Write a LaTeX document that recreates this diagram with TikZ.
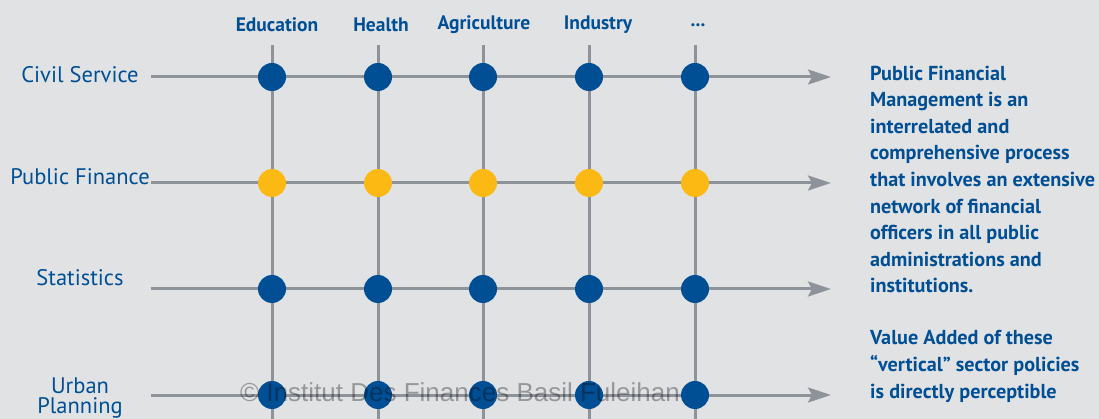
\documentclass[tikz,border=0pt]{standalone}
\usepackage{fontspec}
\setmainfont{PT Sans}
\newfontfamily\markfont{Liberation Sans}
\usetikzlibrary{arrows.meta}
\definecolor{ifblue}{HTML}{004F95}
\definecolor{ifyellow}{HTML}{FDB913}
\definecolor{ifgrey}{HTML}{8E9299}
\definecolor{ifback}{HTML}{E1E2E4}
\newcommand{\moresectors}{...}

\begin{document}
\begin{tikzpicture}[x=1pt,y=-1pt]
	\tikzstyle{dot}=[circle,inner sep=0pt,minimum size=28pt]
	\tikzstyle{grid}=[draw=ifgrey,line width=3pt]
	\tikzstyle{sector}=[text=ifblue,font=\bfseries\fontsize{19.5}{20}\selectfont]
	\tikzstyle{field}=[text=ifblue,font=\fontsize{22.5}{20}\selectfont,align=center]
	\tikzstyle{remark}=[anchor=base west,inner sep=0pt,align=left,text=ifblue,font=\bfseries\fontsize{20.2}{26.6}\selectfont]
	\fill[ifback] (0,0) rectangle (1099,419);
	\useasboundingbox (0,0) rectangle (1099,419);
	
	% sectors (columns)
	\foreach \c/\xc in {1/272,2/378,3/483,4/589,5/695}
	{
		\coordinate (c-\c-top) at (\xc,45);
		\coordinate (c-\c-bot) at (\xc,419);
		\path[grid] (c-\c-top) -- (c-\c-bot);
	}
	
	% fields (rows)
	\foreach \r/\yr in {1/77,2/183,3/289,4/395}
	{
		\coordinate (r-\r-start) at (151,\yr);
		\coordinate (r-\r-end) at (831,\yr);
		\path[grid,-{Stealth[length=23pt,width=15pt,inset=4pt]}] (r-\r-start) -- (r-\r-end);
	}
	
	\foreach \c/\xc in {1/272,2/378,3/483,4/589,5/695}
	\foreach \r/\yr/\col in {1/77/ifblue,2/183/ifyellow,3/289/ifblue,4/395/ifblue}
	\node[dot,fill=\col](d-\r-\c) at (\xc,\yr) {};
	
	\foreach \c/\xt/\lab in {1/277/Education,2/381/Health,3/484/Agriculture,4/598/Industry,5/698/\moresectors}
	\node[sector](s-\c) at (\xt,25) {\lab};
	
	\node[field](f-1) at (80,75) {Civil Service};
	\node[field](f-2) at (80,177) {Public Finance};
	\node[field](f-3) at (80,278) {Statistics};
	\node[field](f-4) at (80,398) {Urban\\Planning};
	
	% last line sits on the base anchor
	\node[remark](pfm) at (870,293) {Public Financial\\Management is an\\interrelated and\\comprehensive process\\that involves an extensive\\network of financial\\officers in all public\\administrations and\\institutions.};
	\node[remark](va) at (870,398) {Value Added of these\\“vertical” sector policies\\is directly perceptible};
	
	\node[text=black,opacity=0.33,font=\markfont\fontsize{26}{26}\selectfont](mark) at (460,392) {© Institut Des Finances Basil Fuleihan};
\end{tikzpicture}
\end{document}
